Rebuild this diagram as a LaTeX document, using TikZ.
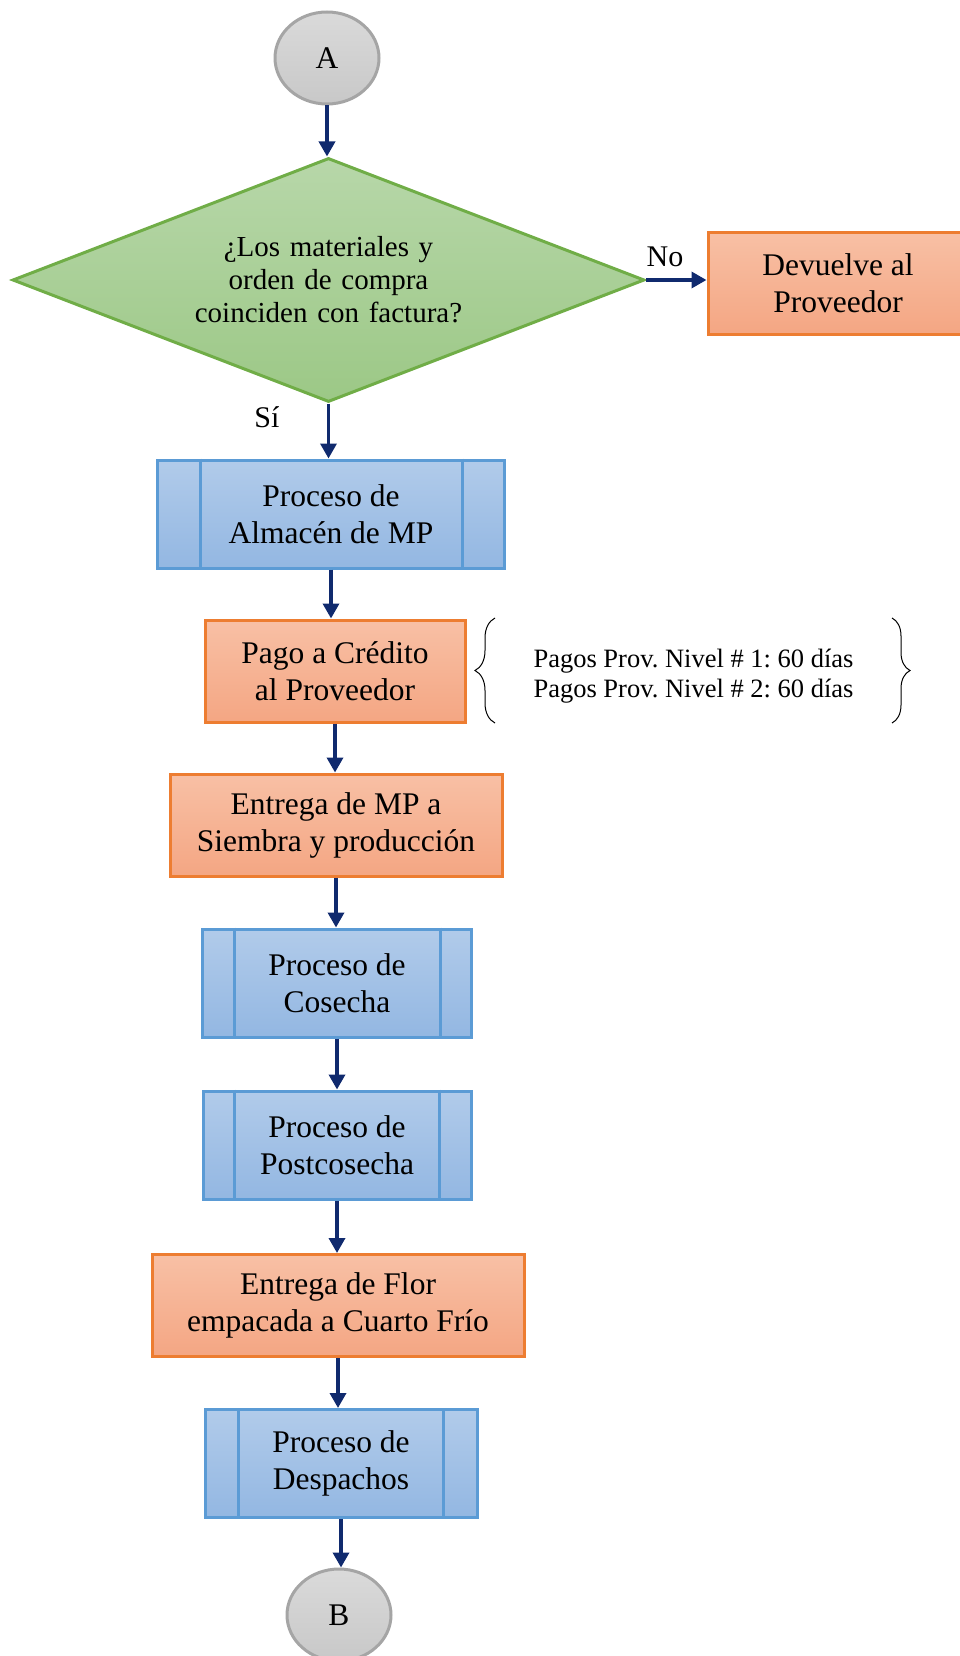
\documentclass[tikz,border=0pt]{standalone}
\usepackage{fontspec}
\setmainfont{Liberation Serif}
\usetikzlibrary{shapes.geometric, arrows.meta, decorations.pathreplacing}
\frenchspacing
\definecolor{myorange}{RGB}{237, 125, 49}
\definecolor{orangetop}{RGB}{248, 192, 165}
\definecolor{orangebot}{RGB}{244, 166, 131}
\definecolor{myblue}{RGB}{91, 155, 213}
\definecolor{bluetop}{RGB}{177, 203, 234}
\definecolor{bluebot}{RGB}{147, 183, 226}
\definecolor{mygreen}{RGB}{112, 173, 71}
\definecolor{greentop}{RGB}{183, 215, 169}
\definecolor{greenbot}{RGB}{156, 200, 134}
\definecolor{mygray}{RGB}{165, 165, 165}
\definecolor{mynavy}{RGB}{16, 42, 110}
\tikzset{>={Triangle[length=15pt, width=16pt]}}
\tikzset{
  boxtext/.style={font=\fontsize{31.5}{37}\selectfont, align=center, inner sep=0pt},
  orangebox/.style={boxtext, draw=myorange, line width=3pt, top color=orangetop, bottom color=orangebot, minimum height=102pt},
  procbox/.style={boxtext, draw=myblue, line width=3pt, top color=bluetop, bottom color=bluebot, minimum height=108pt},
  decision/.style={diamond, aspect=2.59, draw=mygreen, line width=3pt, top color=greentop, bottom color=greenbot, inner sep=0pt, text width=300pt, align=center, font=\fontsize{29}{33}\selectfont, minimum width=632pt, minimum height=244pt},
  linkcircle/.style={ellipse, draw=mygray, line width=3pt, top color={rgb,255:red,218;green,218;blue,218}, bottom color={rgb,255:red,200;green,200;blue,200}, minimum width=104pt, minimum height=92pt, font=\fontsize{31.5}{37}\selectfont},
  conn/.style={->, line width=3.5pt, mynavy},
  label/.style={font=\fontsize{30}{36}\selectfont, inner sep=0pt},
}
\begin{document}
\begin{tikzpicture}[x=1pt, y=-1pt]
\useasboundingbox (0,0) rectangle (959,1656);
% nodes
\node[linkcircle] (A) at (327,58) {A};
\node[decision] (dia) at (328.5,280) {¿Los materiales y\\orden de compra\\coinciden con factura?};
\node[orangebox, minimum width=260pt] (dev) at (838,283.5) {Devuelve al\\Proveedor};
\node[procbox, minimum width=347pt] (alm) at (331,514) {Proceso de\\Almacén de MP};
\node[orangebox, minimum width=260pt] (pago) at (335,671) {Pago a Crédito\\al Proveedor};
\node[orangebox, minimum width=332pt] (emp) at (336,825) {Entrega de MP a\\Siembra y producción};
\node[procbox, minimum width=269pt] (cos) at (337,983) {Proceso de\\Cosecha};
\node[procbox, minimum width=268pt] (pos) at (337,1145) {Proceso de\\Postcosecha};
\node[orangebox, minimum width=372pt] (flor) at (338,1305.5) {Entrega de Flor\\empacada a Cuarto Frío};
\node[procbox, minimum width=272pt] (des) at (341,1463.5) {Proceso de\\Despachos};
\node[linkcircle] (B) at (339,1615) {B};
% inner bars of the process boxes
\foreach \nm/\d in {alm/44, cos/33, pos/33, des/35}{
  \draw[myblue, line width=3pt] ([xshift=\d pt]\nm.north west) -- ([xshift=\d pt]\nm.south west);
  \draw[myblue, line width=3pt] ([xshift=-\d pt]\nm.north east) -- ([xshift=-\d pt]\nm.south east);
}
% note with braces
\node[font=\fontsize{26.5}{29.5}\selectfont, align=center, inner sep=0pt] (note) at (693.5,676) {Pagos Prov. Nivel \# 1: 60 días\\Pagos Prov. Nivel \# 2: 60 días};
\draw[decorate, decoration={brace, amplitude=20pt}, line width=1pt] (495,723) -- (495,618);
\draw[decorate, decoration={brace, amplitude=18pt}, line width=1pt] (892,618) -- (892,723);
% labels
\node[label] (no) at (665,257) {No};
\node[label] (si) at (267,417) {Sí};
% connectors
\draw[conn] (A.south) -- (A.south |- dia.north);
\draw[conn] (dia.east) -- (dia.east -| dev.west);
\draw[conn] (dia.south) -- (dia.south |- alm.north);
\draw[conn] (alm.south) -- (alm.south |- pago.north);
\draw[conn] (pago.south) -- (pago.south |- emp.north);
\draw[conn] (emp.south) -- (emp.south |- cos.north);
\draw[conn] (cos.south) -- (cos.south |- pos.north);
\draw[conn] (pos.south) -- (pos.south |- flor.north);
\draw[conn] (flor.south) -- (flor.south |- des.north);
\draw[conn] (des.south) -- (des.south |- B.north);
\end{tikzpicture}
\end{document}
